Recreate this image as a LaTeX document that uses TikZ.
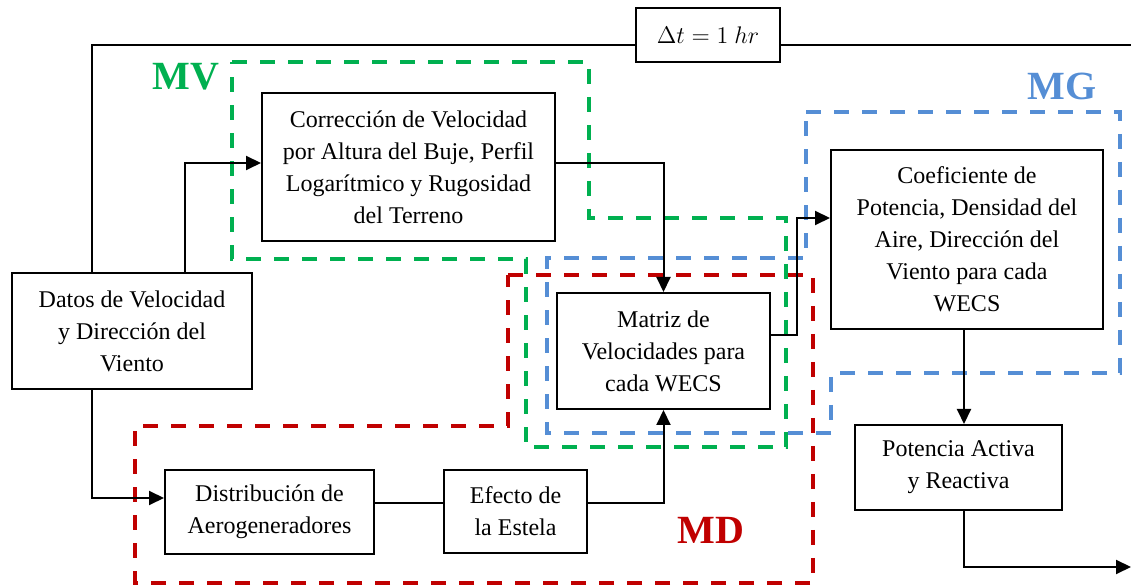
\documentclass[tikz,border=0pt]{standalone}
\usepackage{fontspec}
\setmainfont{Liberation Serif}
\usetikzlibrary{arrows.meta}
\definecolor{mvgreen}{RGB}{0,176,80}
\definecolor{mgblue}{RGB}{85,142,213}
\definecolor{mdred}{RGB}{192,0,0}
\begin{document}
\begin{tikzpicture}[x=0.5pt,y=-0.5pt,
  box/.style={draw=black, line width=1pt, fill=white, align=center, inner sep=0pt,
    font=\fontsize{12}{16}\selectfont},
  conn/.style={line width=1pt},
  arr/.style={line width=1pt, -{Triangle[length=7.5pt,width=7pt]}},
  grp/.style={line width=1.8pt, dash pattern=on 7.5pt off 6.5pt},
  lab/.style={font=\bfseries\fontsize{20}{24}\selectfont, inner sep=0pt}
]
\useasboundingbox (0,0) rectangle (1131,587);

% dashed group outlines
\draw[grp, mvgreen] (232,62) -- (589,62) -- (589,218) -- (786,218) -- (786,447) -- (526,447) -- (526,259) -- (232,259) -- cycle;
\draw[grp, mgblue] (806,112) -- (1120,112) -- (1120,373) -- (831,373) -- (831,433) -- (547,433) -- (547,258) -- (806,258) -- cycle;
\draw[grp, mdred] (508,275) -- (813,275) -- (813,583) -- (135,583) -- (135,426) -- (508,426) -- cycle;

% labels
\node[lab, text=mvgreen] (lmv) at (186,77) {MV};
\node[lab, text=mgblue] (lmg) at (1062,86) {MG};
\node[lab, text=mdred] (lmd) at (711,530) {MD};

% boxes
\node[box, minimum width=120pt, minimum height=58pt] (datos) at (132,331)
  {Datos de Velocidad\\ y Dirección del\\ Viento};
\node[box, minimum width=146.5pt, minimum height=74pt] (corr) at (408.5,167)
  {Corrección de Velocidad\\ por Altura del Buje, Perfil\\ Logarítmico y Rugosidad\\ del Terreno};
\node[box, minimum width=106.5pt, minimum height=58pt] (matriz) at (663.5,351)
  {Matriz de\\ Velocidades para\\ cada WECS};
\node[box, minimum width=136pt, minimum height=89.5pt] (coef) at (967,239.5)
  {Coeficiente de\\ Potencia, Densidad del\\ Aire, Dirección del\\ Viento para cada\\ WECS};
\node[box, minimum width=103.5pt, minimum height=42.5pt] (pot) at (958.5,467.5)
  {Potencia Activa\\ y Reactiva};
\node[box, minimum width=104.5pt, minimum height=42pt] (dist) at (269.5,512)
  {Distribución de\\ Aerogeneradores};
\node[box, minimum width=71.5pt, minimum height=41.5pt] (efecto) at (515.5,511.5)
  {Efecto de\\ la Estela};
\node[box, minimum width=72pt, minimum height=27pt] (dt) at (708,35)
  {\fontsize{12}{14}\selectfont$\Delta t = 1\ hr$};

% routing coordinates
\coordinate (tl) at (92,45);
\coordinate (tr) at (1131,45);
\coordinate (c1) at (185,163);
\coordinate (c2) at (797,335);
\coordinate (c3) at (797,218);
\coordinate (c4) at (964,567);
\coordinate (c5) at (1131,567);
\coordinate (c6) at (92,498);
\coordinate (c7) at (662,503);

% connectors
\draw[conn] (datos.north -| tl) |- (dt.west |- tl);
\draw[conn] (dt.east |- tr) -- (tr);
\draw[arr] (datos.north -| c1) |- (corr.west |- c1);
\draw[arr] (corr.east |- c1) -| (matriz.north);
\draw[arr] (matriz.east |- c2) -- (c2) -- (c3) -- (coef.west |- c3);
\draw[arr] (coef.south -| c4) -- (pot.north -| c4);
\draw[arr] (pot.south -| c4) |- (c5);
\draw[arr] (datos.south -| c6) |- (dist.west |- c6);
\draw[conn] (dist.east |- c7) -- (efecto.west |- c7);
\draw[arr] (efecto.east |- c7) -| (matriz.south);
\end{tikzpicture}
\end{document}
